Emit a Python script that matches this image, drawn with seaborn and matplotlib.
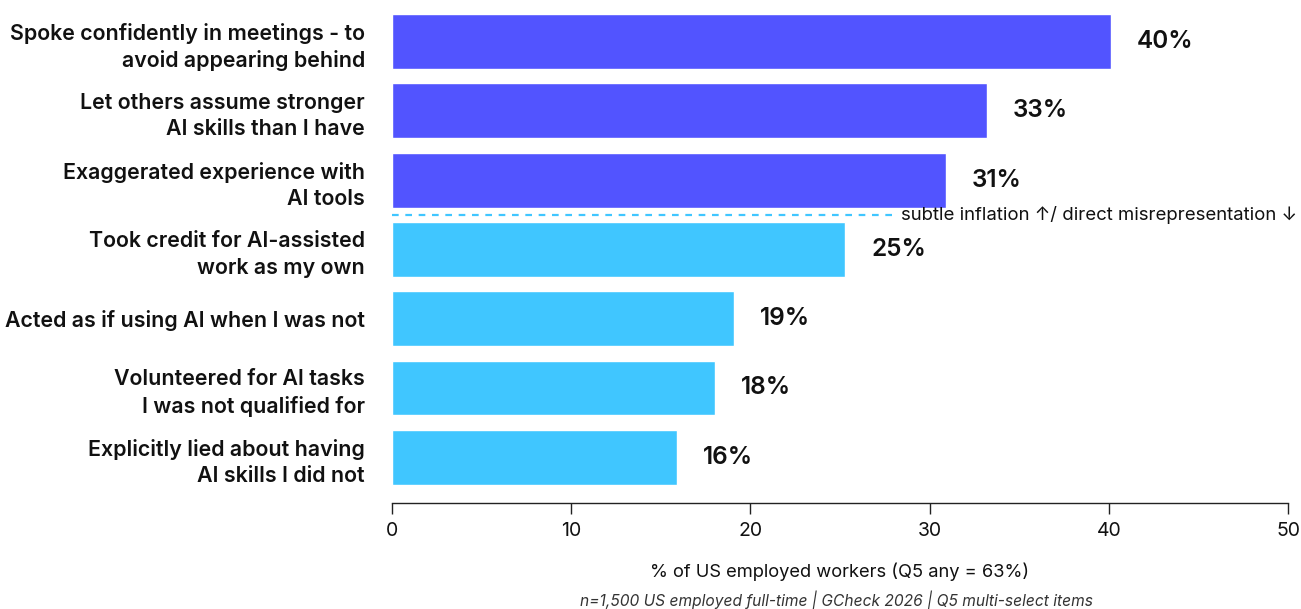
import matplotlib
matplotlib.use("Agg")
import matplotlib.pyplot as plt
import seaborn as sns
import pandas as pd

categories = [
    "Spoke confidently in meetings - to\navoid appearing behind",
    "Let others assume stronger\nAI skills than I have",
    "Exaggerated experience with\nAI tools",
    "Took credit for AI-assisted\nwork as my own",
    "Acted as if using AI when I was not",
    "Volunteered for AI tasks\nI was not qualified for",
    "Explicitly lied about having\nAI skills I did not",
]
values = [40.1, 33.2, 30.9, 25.3, 19.1, 18.0, 15.9]
value_labels = ["40%", "33%", "31%", "25%", "19%", "18%", "16%"]
groups = ["subtle", "subtle", "subtle", "direct", "direct", "direct", "direct"]
xticks = [0, 10, 20, 30, 40, 50]
xlabel = "% of US employed workers (Q5 any = 63%)"
footer = "n=1,500 US employed full-time | GCheck 2026 | Q5 multi-select items"
divider_text = "subtle inflation \u2191/ direct misrepresentation \u2193"

palette = {"subtle": "#5254FF", "direct": "#40C6FF"}

sns.set_theme(style="white")
plt.rcParams["font.family"] = ["Inter", "DejaVu Sans"]

df = pd.DataFrame({"category": categories, "value": values, "group": groups})

fig = plt.figure(figsize=(13.01, 6.09), dpi=100)
ax = fig.add_axes([392 / 1301, 1 - 503 / 609, (1288 - 392) / 1301, 503 / 609])

sns.barplot(data=df, x="value", y="category", hue="group", palette=palette,
            dodge=False, legend=False, width=0.79, ax=ax, saturation=1)

ax.set_xlim(0, 50)
ax.set_ylim(6.66, -0.6)
ax.set_xticks(xticks)
ax.set_xticklabels([str(t) for t in xticks], fontsize=14, color="#111111")
ax.tick_params(axis="x", direction="out", length=8, width=1, color="#222222", pad=6, bottom=True)
ax.tick_params(axis="y", length=0, pad=19.5)
for lab in ax.get_yticklabels():
    lab.set_fontsize(15.4)
    lab.set_fontweight("semibold")
    lab.set_color("#111111")
    lab.set_linespacing(1.38)
ax.set_ylabel("")
ax.set_xlabel(xlabel, fontsize=13.2, color="#111111", labelpad=16)
for s in ["top", "right", "left"]:
    ax.spines[s].set_visible(False)
ax.spines["bottom"].set_color("#222222")
ax.spines["bottom"].set_linewidth(1)

for i, (v, lab) in enumerate(zip(values, value_labels)):
    ax.text(v + 1.45, i, lab, va="center", ha="left", fontsize=17.5,
            fontweight="semibold", color="#111111")

ax.plot([0, 27.9], [2.5, 2.5], linestyle=(0, (3, 3)), color="#40C6FF", lw=1.6)
ax.text(28.4, 2.5, divider_text, va="center", ha="left", fontsize=13.4, color="#111111")

fig.text(837 / 1301, 1 - 600 / 609, footer, ha="center", va="center",
         fontsize=11.2, style="italic", color="#333333")

fig.savefig("out.png", dpi=100)
